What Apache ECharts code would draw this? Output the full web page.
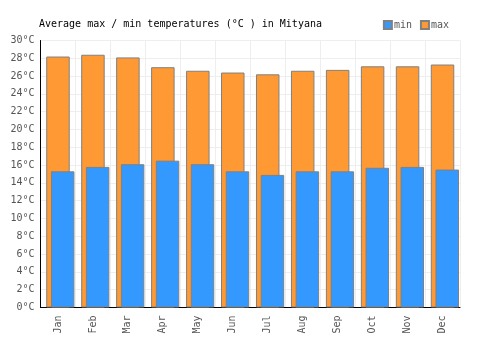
<!DOCTYPE html>
<html>
<head>
<meta charset="utf-8">
<script src="https://cdn.jsdelivr.net/npm/echarts@6/dist/echarts.min.js"></script>
<style>
  html, body { margin: 0; padding: 0; background: #fff; }
  #chart { width: 500px; height: 350px; }
</style>
</head>
<body>
<div id="chart"></div>
<script>
const months = ['Jan', 'Feb', 'Mar', 'Apr', 'May', 'Jun', 'Jul', 'Aug', 'Sep', 'Oct', 'Nov', 'Dec'];
const maxTemps = [28.2, 28.4, 28.1, 27.0, 26.6, 26.4, 26.2, 26.6, 26.7, 27.1, 27.1, 27.3];
const minTemps = [15.3, 15.8, 16.1, 16.5, 16.1, 15.3, 14.9, 15.3, 15.3, 15.7, 15.8, 15.5];

const font = '"DejaVu Sans Mono", monospace';
const chart = echarts.init(document.getElementById('chart'));

const barStyle = (color) => ({ color, borderColor: '#808080', borderWidth: 1 });

chart.setOption({
  animation: false,
  title: {
    text: 'Average max / min temperatures (°C ) in Mityana',
    left: 34,
    top: 14,
    textStyle: { fontFamily: font, fontSize: 10, fontWeight: 'normal', color: '#000' },
  },
  legend: {
    data: ['min', 'max'],
    right: 46,
    top: 15,
    itemWidth: 8,
    itemHeight: 8,
    itemGap: 8,
    icon: 'rect',
    textStyle: { fontFamily: font, fontSize: 10, color: '#555', padding: [0, 0, 0, -3] },
  },
  grid: { left: 40.5, right: 40, top: 40.5, bottom: 42.5 },
  xAxis: {
    type: 'category',
    data: months,
    axisLine: { lineStyle: { color: '#000', width: 1 } },
    axisTick: { show: false },
    splitLine: { show: true, lineStyle: { color: '#eee' } },
    axisLabel: { rotate: 90, fontFamily: font, fontSize: 10, color: '#555', margin: 8 },
  },
  yAxis: {
    type: 'value',
    min: 0,
    max: 30,
    interval: 2,
    axisLine: { show: true, lineStyle: { color: '#000', width: 1 } },
    axisTick: { show: false },
    splitLine: { lineStyle: { color: '#eee' } },
    axisLabel: { formatter: '{value}°C', fontFamily: font, fontSize: 10, color: '#555', margin: 6 },
  },
  series: [
    // empty spacer so the max/min pair sits right of centre, as in the reference
    { name: 'spacer', type: 'bar', data: [], barWidth: 23.5, barGap: '-80%' },
    { name: 'max', type: 'bar', data: maxTemps, barWidth: 23.5, barGap: '-80%', itemStyle: barStyle('#ff9933') },
    { name: 'min', type: 'bar', data: minTemps, barWidth: 23.5, barGap: '-80%', itemStyle: barStyle('#3399ff') },
  ],
});
</script>
</body>
</html>
